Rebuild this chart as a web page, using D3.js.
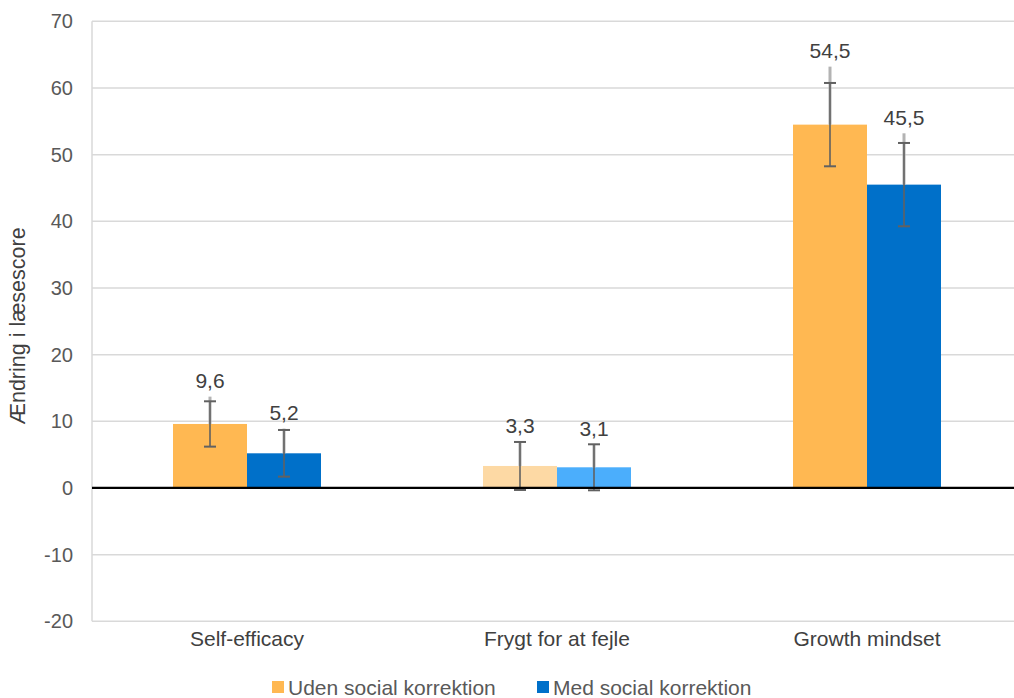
<!DOCTYPE html>
<html><head><meta charset="utf-8">
<script src="https://cdn.jsdelivr.net/npm/d3@7"></script>
<style>body{margin:0;background:#fff}svg{display:block}text{font-family:"Liberation Sans",Arial,sans-serif}</style>
</head><body><svg id="c" width="1014" height="698"></svg>
<script>
const categories = ["Self-efficacy", "Frygt for at fejle", "Growth mindset"];
const seriesNames = ["Uden social korrektion", "Med social korrektion"];
const udenValues = [9.6, 3.3, 54.5];
const medValues = [5.2, 3.1, 45.5];
const udenErr = [3.4, 3.6, 6.25];
const medErr = [3.5, 3.45, 6.25];
const udenOuterTop = [13.7, 6.9, 63.2];
const medOuterTop = [8.9, 6.55, 53.2];
const significant = [true, false, true];
const yTicks = [-20, -10, 0, 10, 20, 30, 40, 50, 60, 70];
const yTitle = "Ændring i læsescore";

const colors = {
  sig: ["#FFB852", "#0070C9"],
  ns: ["#FDD9A4", "#4BAEFC"]
};

(function(){
const svg = d3.select("#c");
const pLeft = 92, pRight = 1022, pTop = 21.3, pBottom = 621.3;
const y = d3.scaleLinear().domain([-20, 70]).range([pBottom, pTop]);
const x = d3.scaleBand().domain(categories).range([pLeft, pRight]);
const x1 = d3.scaleBand().domain([0, 1]).range([x.bandwidth()*0.2613, x.bandwidth()*0.7387]);

// gridlines
svg.append("g").selectAll("line").data(yTicks.filter(t => t !== 0)).join("line")
  .attr("x1", pLeft).attr("x2", 1014)
  .attr("y1", d => y(d)).attr("y2", d => y(d))
  .attr("stroke", "#d9d9d9").attr("stroke-width", 1.5);
svg.append("line").attr("x1", pLeft).attr("x2", pLeft).attr("y1", pTop).attr("y2", pBottom)
  .attr("stroke", "#d9d9d9").attr("stroke-width", 1.5);

// y axis labels
const yAxis = d3.axisLeft(y).tickValues(yTicks).tickSize(0).tickPadding(19).tickFormat(d => String(d));
const ya = svg.append("g").attr("transform", `translate(${pLeft},0)`).call(yAxis);
ya.select(".domain").remove();
ya.selectAll("text").attr("font-size", 20).attr("fill", "#595959")
  .style("font-family", '"Liberation Sans",Arial,sans-serif');

// y title
svg.append("text").attr("transform", `translate(25,326) rotate(-90)`)
  .attr("text-anchor", "middle").attr("font-size", 21.5).attr("fill", "#404040")
  .text(yTitle);

// data
const data = categories.map((c, i) => ({
  c, i,
  vals: [
    {s: 0, v: udenValues[i], e: udenErr[i], o: udenOuterTop[i]},
    {s: 1, v: medValues[i], e: medErr[i], o: medOuterTop[i]}
  ]
}));

const g = svg.append("g").selectAll("g").data(data).join("g")
  .attr("transform", d => `translate(${x(d.c)},0)`);

g.selectAll("rect").data(d => d.vals.map(v => ({...v, i: d.i}))).join("rect")
  .attr("x", d => x1(d.s)).attr("width", x1.bandwidth())
  .attr("y", d => y(Math.max(0, d.v))).attr("height", d => Math.abs(y(d.v) - y(0)))
  .attr("fill", d => (significant[d.i] ? colors.sig : colors.ns)[d.s]);

// zero line
svg.append("line").attr("x1", pLeft).attr("x2", 1014).attr("y1", y(0)).attr("y2", y(0))
  .attr("stroke", "#000").attr("stroke-width", 2.2);

// error bars
const eb = g.selectAll("g.eb").data(d => d.vals.map(v => ({...v, i: d.i}))).join("g")
  .attr("class", "eb")
  .attr("transform", d => `translate(${x1(d.s) + x1.bandwidth()/2},0)`);
eb.append("line").attr("x1", 0).attr("x2", 0)
  .attr("y1", d => y(d.v)).attr("y2", d => y(d.o))
  .attr("stroke", "#b3b3b3").attr("stroke-width", 3);
eb.append("line").attr("x1", 0).attr("x2", 0)
  .attr("y1", d => y(d.v - d.e)).attr("y2", d => y(d.v + d.e))
  .attr("stroke", "#616161").attr("stroke-width", 1.6);
eb.append("line").attr("x1", -6).attr("x2", 6)
  .attr("y1", d => y(d.v + d.e)).attr("y2", d => y(d.v + d.e))
  .attr("stroke", "#616161").attr("stroke-width", 2);
eb.append("line").attr("x1", -6).attr("x2", 6)
  .attr("y1", d => y(d.v - d.e)).attr("y2", d => y(d.v - d.e))
  .attr("stroke", "#616161").attr("stroke-width", 2);
eb.append("text").attr("text-anchor", "middle")
  .attr("y", d => y(Math.max(d.o, d.v + d.e)) - 8.5)
  .attr("font-size", 21).attr("fill", "#404040")
  .text(d => d3.format(".1f")(d.v).replace(".", ","));

// x labels
svg.append("g").selectAll("text").data(categories).join("text")
  .attr("x", d => x(d) + x.bandwidth()/2).attr("y", 645.5)
  .attr("text-anchor", "middle").attr("font-size", 21).attr("fill", "#404040")
  .text(d => d);

// legend
const legX = [272, 537];
const lg = svg.append("g").selectAll("g").data(seriesNames).join("g")
  .attr("transform", (d, i) => `translate(${legX[i]},681)`);
lg.append("rect").attr("width", 12).attr("height", 12).attr("fill", (d, i) => colors.sig[i]);
lg.append("text").attr("x", 16).attr("y", 13.5).attr("font-size", 21).attr("fill", "#595959").text(d => d);
})();
</script></body></html>
